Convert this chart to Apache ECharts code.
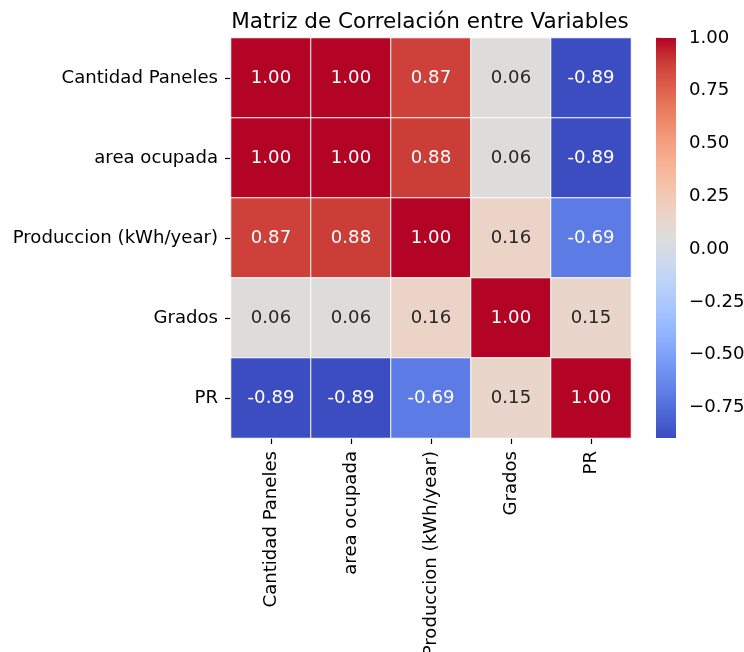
<!DOCTYPE html>
<html>
<head>
<meta charset="utf-8">
<script src="https://cdn.jsdelivr.net/npm/echarts@6/dist/echarts.min.js"></script>
<style>html,body{margin:0;padding:0;background:#fff}#c{width:744px;height:652px}</style>
</head>
<body>
<div id="c"></div>
<script>
const categories = ['Cantidad Paneles', 'area ocupada', 'Produccion (kWh/year)', 'Grados', 'PR'];
const rowCantidadPaneles = [1.00, 1.00, 0.87, 0.06, -0.89];
const rowAreaOcupada = [1.00, 1.00, 0.88, 0.06, -0.89];
const rowProduccion = [0.87, 0.88, 1.00, 0.16, -0.69];
const rowGrados = [0.06, 0.06, 0.16, 1.00, 0.15];
const rowPR = [-0.89, -0.89, -0.69, 0.15, 1.00];
const colorbarTicks = [-0.75, -0.5, -0.25, 0, 0.25, 0.5, 0.75, 1.0];
const vMin = -0.895, vMax = 1.0;

const coolwarm = ['#3b4cc0','#4d68d7','#6282ea','#779af7','#8db0fe','#a3c2ff','#b8d0f9','#ccd9ee','#dddddd','#ecd3c5','#f5c4ad','#f7b194','#f49a7b','#ec7f63','#de604d','#cb3e38','#b40426'];

const rows = [rowCantidadPaneles, rowAreaOcupada, rowProduccion, rowGrados, rowPR];
const data = [];
rows.forEach((r, yi) => r.forEach((v, xi) => {
  data.push({ value: [xi, yi, v], label: { color: Math.abs(v) < 0.35 ? '#262626' : '#ffffff' } });
}));

const font = 'DejaVu Sans';
const fs = 18.1;
const chart = echarts.init(document.getElementById('c'), null, { renderer: 'canvas' });
chart.setOption({
  animation: false,
  backgroundColor: '#ffffff',
  title: {
    text: 'Matriz de Correlación entre Variables',
    left: 425, top: 6, textAlign: 'center',
    textStyle: { fontFamily: font, fontSize: 21.5, fontWeight: 'normal', color: '#000' }
  },
  grid: [
    { left: 231, top: 38, width: 400, height: 400, outerBoundsMode: 'none', containLabel: false },
    { left: 656, top: 38, width: 20, height: 400, outerBoundsMode: 'none', containLabel: false }
  ],
  xAxis: [
    {
      type: 'category', data: categories, gridIndex: 0,
      axisLine: { show: false },
      axisTick: { show: true, alignWithLabel: true, length: 6, lineStyle: { color: '#000', width: 1.2 } },
      axisLabel: { rotate: 90, margin: 13, fontFamily: font, fontSize: fs, color: '#000', interval: 0 },
      splitLine: { show: false }
    },
    { type: 'value', gridIndex: 1, show: false, min: 0, max: 1 }
  ],
  yAxis: [
    {
      type: 'category', data: categories, gridIndex: 0, inverse: true,
      axisLine: { show: false },
      axisTick: { show: true, alignWithLabel: true, length: 6, lineStyle: { color: '#000', width: 1.2 } },
      axisLabel: { margin: 13, fontFamily: font, fontSize: fs, color: '#000', interval: 0 },
      splitLine: { show: false }
    },
    {
      type: 'value', gridIndex: 1, position: 'right', min: vMin, max: vMax,
      axisLine: { show: false },
      splitLine: { show: false },
      axisTick: { show: true, customValues: colorbarTicks, length: 6, lineStyle: { color: '#000', width: 1.2 } },
      axisLabel: {
        customValues: colorbarTicks, margin: 13, fontFamily: font, fontSize: fs, color: '#000',
        formatter: v => (v < 0 ? '\u2212' + Math.abs(v).toFixed(2) : v.toFixed(2))
      }
    }
  ],
  visualMap: {
    type: 'continuous', min: vMin, max: vMax, show: false,
    seriesIndex: 0, dimension: 2,
    inRange: { color: coolwarm }
  },
  series: [
    {
      type: 'heatmap', xAxisIndex: 0, yAxisIndex: 0, data: data,
      itemStyle: { borderColor: '#ffffff', borderWidth: 1 },
      label: {
        show: true, fontFamily: font, fontSize: fs,
        formatter: p => p.value[2].toFixed(2)
      },
      emphasis: { disabled: true }
    },
    {
      type: 'custom', xAxisIndex: 1, yAxisIndex: 1, data: [[0]], silent: true,
      renderItem: (params, api) => {
        const p0 = api.coord([0, vMax]);
        const p1 = api.coord([1, vMin]);
        const stops = coolwarm.map((c, i) => ({ offset: 1 - i / (coolwarm.length - 1), color: c }));
        stops.reverse();
        return {
          type: 'rect',
          shape: { x: p0[0], y: p0[1], width: p1[0] - p0[0], height: p1[1] - p0[1] },
          style: { fill: new echarts.graphic.LinearGradient(0, 0, 0, 1, stops) }
        };
      }
    }
  ]
});
</script>
</body>
</html>
